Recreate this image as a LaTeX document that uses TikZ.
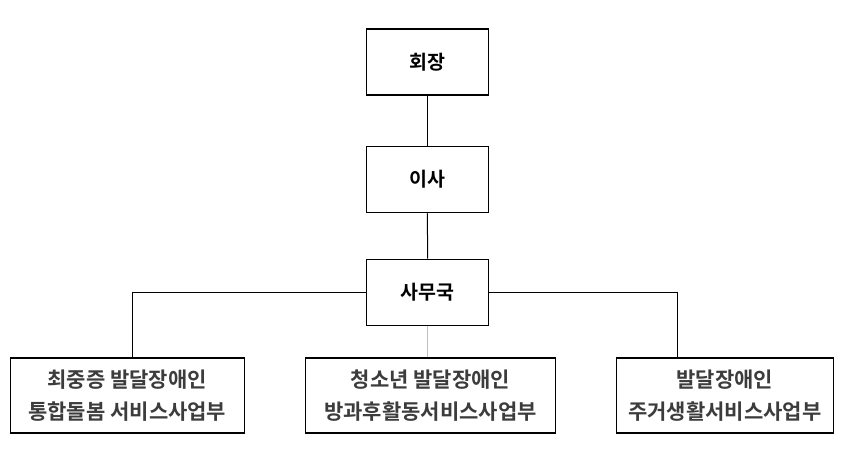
\documentclass[tikz,border=0pt]{standalone}
\usepackage{fontspec}
\setmainfont{Noto Sans CJK KR}[BoldFont={Noto Sans CJK KR Bold}]
\definecolor{subtext}{HTML}{3C3C3C}
\definecolor{midline}{HTML}{BEBEBE}
\begin{document}
\begin{tikzpicture}[x=1pt,y=-1pt,
  topbox/.style={draw=black,line width=1.5pt,minimum width=122pt,minimum height=66pt,inner sep=0pt,
    font=\fontsize{19.5}{22}\selectfont\bfseries,text=black},
  subbox/.style={draw=black,line width=1.5pt,minimum height=75pt,inner sep=0pt,align=center,
    font=\fontsize{21}{32}\selectfont\bfseries,text=subtext},
  link/.style={draw=black,line width=1pt}]
\useasboundingbox (0,0) rectangle (859,452);
\node[topbox] (hj) at (427.3,62.2) {회장};
\node[topbox] (is) at (427.3,179.5) {이사};
\node[topbox] (sm) at (427.7,292.3) {사무국};
\node[subbox,minimum width=234pt] (lb) at (127.3,395.7) {최중증 발달장애인\\통합돌봄 서비스사업부};
\node[subbox,minimum width=249.6pt] (mb) at (430.5,395.7) {청소년 발달장애인\\방과후활동서비스사업부};
\node[subbox,minimum width=217pt] (rb) at (724.8,395.7) {발달장애인\\주거생활서비스사업부};
\draw[link] (hj.south) -- (is.north);
\draw[link] (is.south) -- (sm.north);
\draw[link] (sm.west) -| ([xshift=5pt]lb.north);
\draw[link] (sm.east) -| ([xshift=-47.5pt]rb.north);
\draw[line width=1pt,midline] (sm.south) -- (sm.south |- mb.north);
\end{tikzpicture}
\end{document}
